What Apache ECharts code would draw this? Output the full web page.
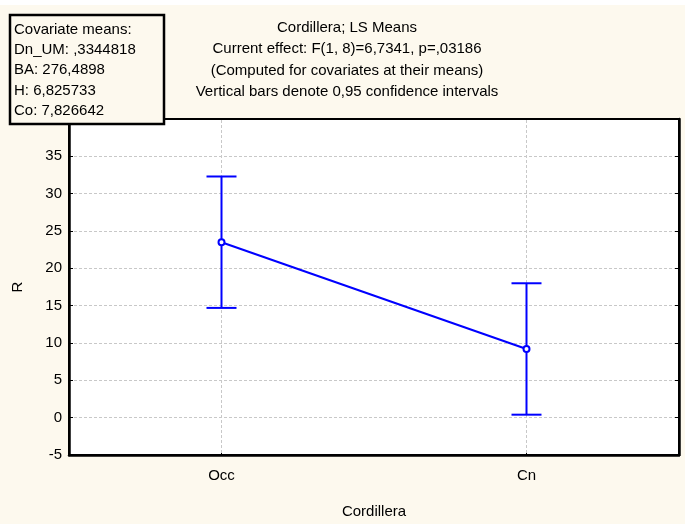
<!DOCTYPE html>
<html>
<head>
<meta charset="utf-8">
<script src="https://cdn.jsdelivr.net/npm/echarts@6/dist/echarts.min.js"></script>
<style>
html,body{margin:0;padding:0;background:#fdf9ee;}
#chart{width:685px;height:524px;}
</style>
</head>
<body>
<div id="chart"></div>
<script>
var categories = ['Occ', 'Cn'];
var means = [23.5, 9.2];
var lower = [14.7, 0.4];
var upper = [32.3, 18.0];
var titleLines = [
  'Cordillera; LS Means',
  'Current effect: F(1, 8)=6,7341, p=,03186',
  '(Computed for covariates at their means)',
  'Vertical bars denote 0,95 confidence intervals'
];
var covLines = [
  'Covariate means:',
  'Dn_UM: ,3344818',
  'BA: 276,4898',
  'H: 6,825733',
  'Co: 7,826642'
];
var yMin = -5, yMax = 40, yStep = 5;

var FONT = '"Liberation Sans", Arial, sans-serif';
var chart = echarts.init(document.getElementById('chart'));

var errData = categories.map(function (c, i) { return [i, lower[i], upper[i]]; });

var graphics = [];
graphics.push({
  type: 'rect', shape: { x: 0, y: 0, width: 685, height: 5 },
  style: { fill: '#ffffff' }, z: 1
});
titleLines.forEach(function (t, i) {
  graphics.push({
    type: 'text', x: 347, y: 28 + i * 21.3,
    style: { text: t, fill: '#000', font: '15px ' + FONT, textAlign: 'center', textVerticalAlign: 'middle' },
    z: 10
  });
});
graphics.push({
  type: 'rect', shape: { x: 10, y: 15, width: 154, height: 109 },
  style: { fill: '#fdf9ee', stroke: '#000', lineWidth: 2.5 }, z: 20
});
covLines.forEach(function (t, i) {
  graphics.push({
    type: 'text', x: 14, y: 29.5 + i * 20.3,
    style: { text: t, fill: '#000', font: '15px ' + FONT, textAlign: 'left', textVerticalAlign: 'middle' },
    z: 21
  });
});

chart.setOption({
  backgroundColor: '#fdf9ee',
  animation: false,
  textStyle: { fontFamily: FONT },
  grid: { left: 69, right: 6, top: 119, bottom: 65, show: true, backgroundColor: '#fff', borderColor: '#000', borderWidth: 2, containLabel: false },
  graphic: graphics,
  xAxis: [{
    type: 'category', data: categories, boundaryGap: true,
    name: 'Cordillera', nameLocation: 'middle', nameGap: 49,
    nameTextStyle: { color: '#000', fontSize: 15, fontFamily: FONT },
    axisLine: { onZero: false, lineStyle: { color: '#000', width: 2.5 } },
    axisTick: { show: true, inside: true, alignWithLabel: true, length: 4, lineStyle: { color: '#000' } },
    axisLabel: { color: '#000', fontSize: 15, margin: 13, fontFamily: FONT },
    splitLine: { show: false }
  }, {
    type: 'category', data: categories, boundaryGap: true, position: 'top',
    axisLine: { onZero: false, lineStyle: { color: '#000', width: 2 } },
    axisTick: { show: false }, axisLabel: { show: false }, splitLine: { show: false }
  }],
  yAxis: [{
    type: 'value', min: yMin, max: yMax, interval: yStep,
    name: 'R', nameLocation: 'middle', nameGap: 44, nameRotate: 90,
    nameTextStyle: { color: '#000', fontSize: 15, fontFamily: FONT },
    axisLine: { show: true, onZero: false, lineStyle: { color: '#000', width: 2.5 } },
    axisTick: { show: true, inside: true, length: 4, lineStyle: { color: '#000' } },
    axisLabel: { color: '#000', fontSize: 15, margin: 7, fontFamily: FONT,
      formatter: function (v) { return v >= yMax ? '' : String(v); } },
    splitLine: { show: true, showMinLine: false, showMaxLine: false, lineStyle: { color: '#c8c8c8', type: [3, 2], width: 1 } }
  }, {
    type: 'value', min: yMin, max: yMax, interval: yStep, position: 'right',
    axisLine: { show: true, onZero: false, lineStyle: { color: '#000', width: 2.5 } },
    axisTick: { show: true, inside: true, length: 4, lineStyle: { color: '#000' } },
    axisLabel: { show: false }, splitLine: { show: false }
  }],
  series: [{
    type: 'custom',
    data: errData,
    z: 3,
    renderItem: function (params, api) {
      var i = api.value(0);
      var lo = api.coord([i, api.value(1)]);
      var hi = api.coord([i, api.value(2)]);
      var top = api.coord([i, yMax]);
      var bot = api.coord([i, yMin]);
      var hw = 15;
      var ls = { stroke: '#0000ff', lineWidth: 2 };
      return {
        type: 'group',
        children: [
          { type: 'line', z2: 0, shape: { x1: top[0], y1: top[1] + 1, x2: bot[0], y2: bot[1] - 1 }, style: { stroke: '#c8c8c8', lineWidth: 1, lineDash: [3, 2] } },
          { type: 'line', z2: 5, shape: { x1: lo[0], y1: lo[1], x2: hi[0], y2: hi[1] }, style: ls },
          { type: 'line', z2: 5, shape: { x1: lo[0] - hw, y1: lo[1], x2: lo[0] + hw, y2: lo[1] }, style: ls },
          { type: 'line', z2: 5, shape: { x1: hi[0] - hw, y1: hi[1], x2: hi[0] + hw, y2: hi[1] }, style: ls }
        ]
      };
    }
  }, {
    type: 'line', data: means, z: 4,
    symbol: 'emptyCircle', symbolSize: 6,
    lineStyle: { color: '#0000ff', width: 2 },
    itemStyle: { color: '#0000ff', borderWidth: 1.5 }
  }]
});
</script>
</body>
</html>
